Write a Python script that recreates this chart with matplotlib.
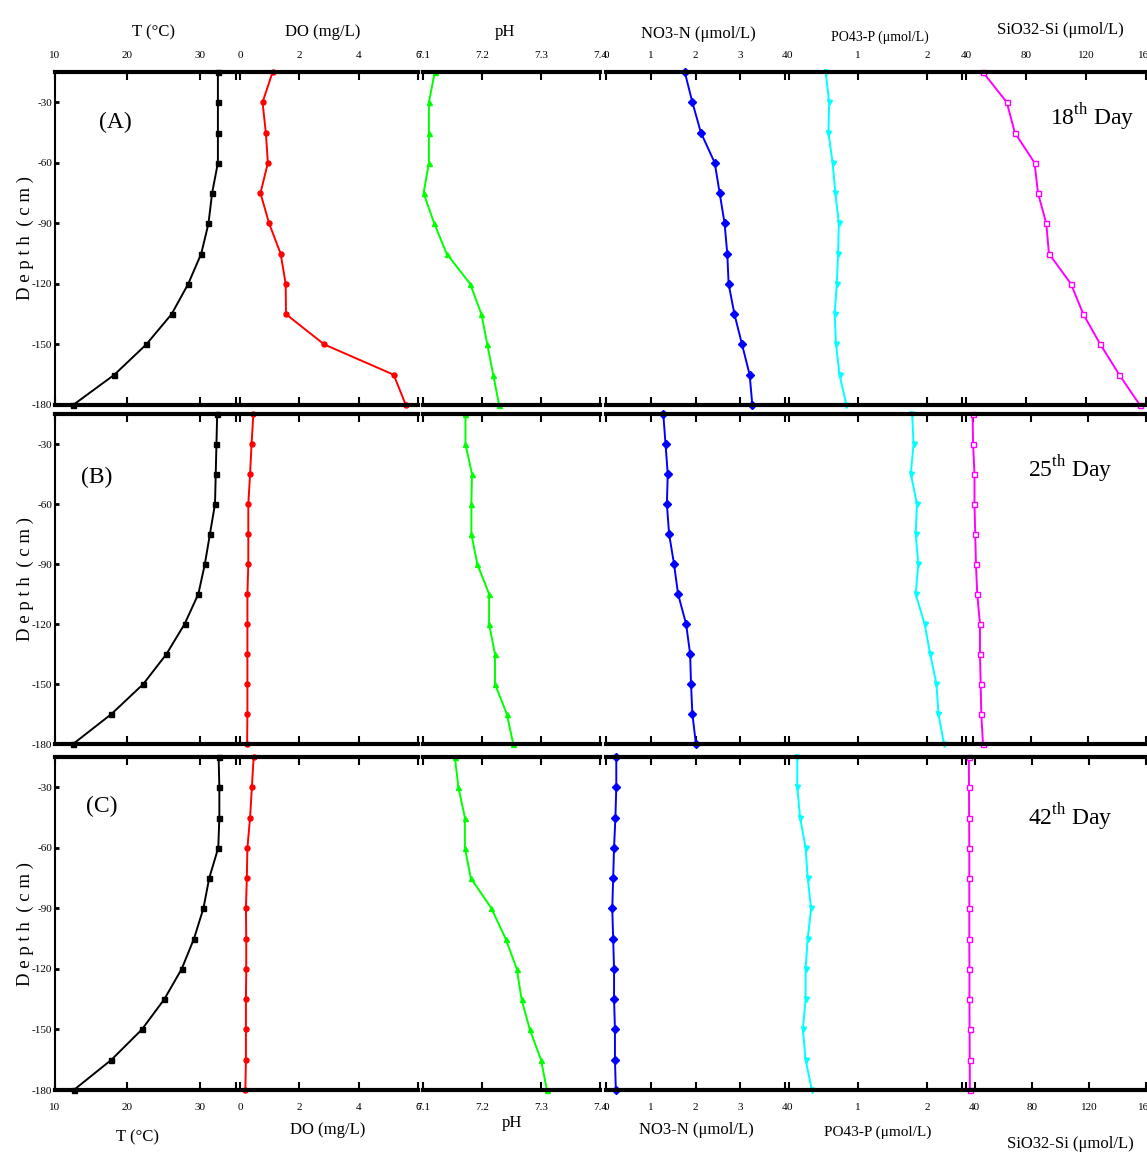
import matplotlib
matplotlib.use('Agg')
import matplotlib.pyplot as plt

plt.rcParams['font.family'] = ['Liberation Serif', 'DejaVu Serif']
plt.rcParams['mathtext.fontset'] = 'custom'
plt.rcParams['mathtext.rm'] = 'Liberation Serif'

# ---------------- data ----------------
depth = [-15, -30, -45, -60, -75, -90, -105, -120, -135, -150, -165, -180]

T_A = [32.5, 32.5, 32.5, 32.5, 31.7, 31.2, 30.2, 28.4, 26.1, 22.6, 18.2, 12.5]
T_B = [32.4, 32.3, 32.2, 32.1, 31.4, 30.7, 29.8, 27.9, 25.4, 22.2, 17.8, 12.5]
T_C = [32.6, 32.7, 32.7, 32.55, 31.3, 30.5, 29.2, 27.5, 25.1, 22.0, 17.8, 12.6]

DO_A = [1.10, 0.76, 0.87, 0.94, 0.69, 0.98, 1.37, 1.54, 1.55, 2.84, 5.18, 5.59]
DO_B = [0.45, 0.39, 0.34, 0.28, 0.28, 0.28, 0.25, 0.25, 0.25, 0.25, 0.25, 0.24]
DO_C = [0.46, 0.40, 0.34, 0.25, 0.23, 0.20, 0.21, 0.21, 0.20, 0.20, 0.20, 0.18]

pH_A = [7.120, 7.110, 7.110, 7.110, 7.101, 7.119, 7.140, 7.180, 7.199, 7.209, 7.219, 7.229]
pH_B = [7.172, 7.172, 7.183, 7.182, 7.182, 7.192, 7.212, 7.212, 7.222, 7.222, 7.242, 7.253]
pH_C = [7.154, 7.160, 7.171, 7.171, 7.181, 7.216, 7.240, 7.259, 7.267, 7.281, 7.300, 7.310]

NO3_A = [1.76, 1.93, 2.12, 2.43, 2.54, 2.65, 2.71, 2.74, 2.87, 3.04, 3.21, 3.27]
NO3_B = [1.28, 1.33, 1.38, 1.36, 1.41, 1.52, 1.61, 1.79, 1.88, 1.90, 1.93, 2.01]
NO3_C = [0.23, 0.23, 0.21, 0.18, 0.16, 0.14, 0.16, 0.18, 0.18, 0.20, 0.20, 0.22]

PO4_A = [0.53, 0.58, 0.57, 0.63, 0.67, 0.72, 0.71, 0.69, 0.66, 0.68, 0.73, 0.83]
PO4_B = [1.78, 1.80, 1.76, 1.85, 1.83, 1.87, 1.83, 1.96, 2.04, 2.13, 2.16, 2.24]
PO4_C = [0.12, 0.12, 0.16, 0.24, 0.27, 0.32, 0.27, 0.24, 0.24, 0.20, 0.24, 0.33]

Si_A = [51.2, 67.2, 72.5, 85.7, 88.0, 93.5, 95.3, 110.0, 118.2, 129.6, 142.2, 155.9]
Si_B = [39.6, 39.9, 40.9, 40.9, 41.4, 41.9, 42.8, 44.7, 44.7, 45.2, 45.6, 46.8]
Si_C = [36.0, 36.1, 36.2, 36.3, 36.3, 36.3, 36.3, 36.4, 36.4, 36.5, 36.6, 36.7]

var_names = ['T (\u00b0C)', 'DO (mg/L)', 'pH', 'NO3-N (\u03bcmol/L)', 'PO43-P (\u03bcmol/L)', 'SiO32-Si (\u03bcmol/L)']
var_ticks = [[10, 20, 30], [0, 2, 4, 6], [7.1, 7.2, 7.3, 7.4], [0, 1, 2, 3, 4], [0, 1, 2], [40, 80, 120, 160]]
var_ticklabels = [['10', '20', '30'], ['0', '2', '4', '6'], ['7.1', '7.2', '7.3', '7.4'],
                  ['0', '1', '2', '3', '4'], ['0', '1', '2'], ['40', '80', '120', '160']]
var_xlims = [(10, 35), (0, 6), (7.1, 7.4), (0, 4), (0, 2.5), (40, 160)]
si_xlims = [(40, 160), (35, 160), (34, 160)]
var_colors = ['black', '#FF0000', '#00FF00', '#0000FF', '#00FFFF', '#FF00FF']
var_markers = ['s', 'o', '^', 'D', 'v', 's']

rows = [
    [T_A, DO_A, pH_A, NO3_A, PO4_A, Si_A],
    [T_B, DO_B, pH_B, NO3_B, PO4_B, Si_B],
    [T_C, DO_C, pH_C, NO3_C, PO4_C, Si_C],
]
row_letters = ['(A)', '(B)', '(C)']
row_days = [r'18$^{\rm th}$ Day', r'25$^{\rm th}$ Day', r'42$^{\rm th}$ Day']

depth_ticks = [-30, -60, -90, -120, -150, -180]

# ---------------- layout (pixels) ----------------
W, H = 1147, 1155
col_px = [(55, 236), (240, 418), (423, 600), (606, 785), (789, 962), (966, 1146)]
row_px = [(72, 405), (414, 744), (757, 1090)]

fig = plt.figure(figsize=(W / 100, H / 100), dpi=100)


def frac(x0, x1, y0, y1):
    return [x0 / W, 1 - y1 / H, (x1 - x0) / W, (y1 - y0) / H]


tick_fs = 8
title_fs = 12

for r, (y0, y1) in enumerate(row_px):
    for c, (x0, x1) in enumerate(col_px):
        ax = fig.add_axes(frac(x0, x1, y0, y1))
        vals = rows[r][c]
        ms = 3.6
        mfc = 'white' if c == 5 else var_colors[c]
        ax.plot(vals, depth, color=var_colors[c], marker=var_markers[c], ms=ms,
                mfc=mfc, mec=var_colors[c], mew=1.0, lw=1.4, clip_on=False, zorder=2)
        xl = si_xlims[r] if c == 5 else var_xlims[c]
        ax.set_xlim(*xl)
        ax.set_ylim(-180, -15)
        for s in ['left', 'right']:
            ax.spines[s].set_visible(False)
        for s in ['top', 'bottom']:
            ax.spines[s].set_linewidth(3.0)
            ax.spines[s].set_zorder(3)
        ax.set_xticks(var_ticks[c])
        ax.set_xticklabels(var_ticklabels[c])
        ax.set_xticks([xl[0], xl[1]], minor=True)
        ax.tick_params(axis='x', which='both', direction='in', top=True, bottom=True,
                       length=6, width=1.5, labelsize=tick_fs, pad=9)
        ax.tick_params(axis='x', labeltop=(r == 0), labelbottom=(r == 2))
        if c == 0:
            ax.spines['left'].set_visible(True)
            ax.spines['left'].set_linewidth(1.5)
            ax.set_yticks(depth_ticks)
            ax.set_yticklabels([str(t) for t in depth_ticks])
            ax.tick_params(axis='y', direction='in', length=3, width=2, labelsize=tick_fs, pad=2)
        else:
            ax.set_yticks([])
        ax.set_facecolor('none')

    # row annotations
    yc = (y0 + y1) / 2
    fig.text(25 / W, 1 - yc / H, 'D e p t h  ( c m )', rotation=90, ha='center', va='center',
             fontsize=13.5)

fig.text(115 / W, 1 - 122 / H, row_letters[0], ha='center', va='center', fontsize=17)
fig.text(97 / W, 1 - 477 / H, row_letters[1], ha='center', va='center', fontsize=17)
fig.text(102 / W, 1 - 806 / H, row_letters[2], ha='center', va='center', fontsize=17)

fig.text(1092 / W, 1 - 117 / H, row_days[0], ha='center', va='center', fontsize=17)
fig.text(1070 / W, 1 - 469 / H, row_days[1], ha='center', va='center', fontsize=17)
fig.text(1070 / W, 1 - 817 / H, row_days[2], ha='center', va='center', fontsize=17)

# axis titles
top_pos = [(153, 32), (323, 32), (505, 32), (698, 34), (880, 37), (1060, 30)]
bot_pos = [(137, 1137), (328, 1130), (512, 1123), (696, 1130), (878, 1132), (1070, 1144)]
for c in range(6):
    fs = 10 if c == 4 else title_fs
    fig.text(top_pos[c][0] / W, 1 - top_pos[c][1] / H, var_names[c], ha='center', va='center',
             fontsize=fs)
    fig.text(bot_pos[c][0] / W, 1 - bot_pos[c][1] / H, var_names[c], ha='center', va='center',
             fontsize=title_fs if c != 4 else 11)

fig.savefig('out.png', dpi=100)
